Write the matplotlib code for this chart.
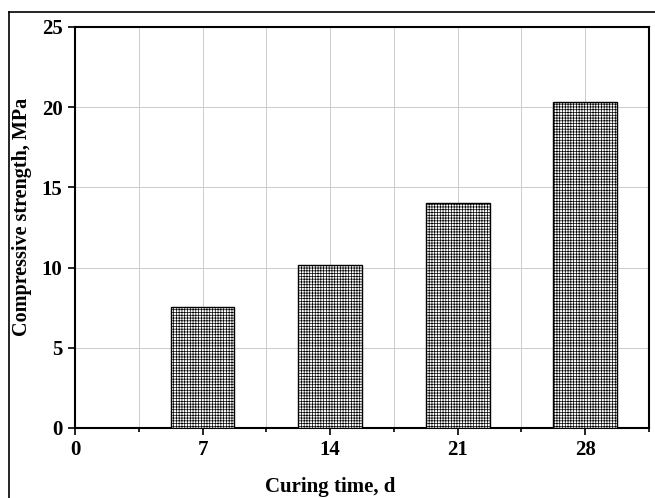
import numpy as np
import matplotlib
matplotlib.use("Agg")
import matplotlib.pyplot as plt
from matplotlib.lines import Line2D

# curing time (days) and compressive strength (MPa)
days = [7, 14, 21, 28]
strength = [7.55, 10.15, 14.05, 20.3]
xticks = [0, 7, 14, 21, 28]
yticks = [0, 5, 10, 15, 20, 25]

plt.rcParams['font.family'] = 'serif'
plt.rcParams['font.serif'] = ['Liberation Serif']
plt.rcParams['font.weight'] = 'bold'
plt.rcParams['hatch.linewidth'] = 0.5

fig = plt.figure(figsize=(6.55, 4.98), dpi=100)
ax = fig.add_axes([0.1145, 0.1406, 0.8763, 0.8052])

ax.bar(days, strength, width=3.5, facecolor='white', edgecolor='black',
       hatch='++++++', linewidth=1.0, zorder=3)

ax.set_xlim(0, 31.5)
ax.set_ylim(0, 25)
ax.set_xticks(xticks)
ax.set_xticks(np.arange(3.5, 31.6, 7), minor=True)
ax.set_yticks(yticks)
ax.grid(True, which='both', axis='x', color='#cccccc', linewidth=0.7, zorder=0)
ax.grid(True, which='major', axis='y', color='#cccccc', linewidth=0.7, zorder=0)
ax.tick_params(axis='both', which='major', direction='out', length=5, width=1.2,
               labelsize=15, pad=4)
ax.tick_params(axis='x', which='minor', direction='out', length=3, width=1.2)
for lbl in ax.get_xticklabels() + ax.get_yticklabels():
    lbl.set_fontweight('bold')
for s in ax.spines.values():
    s.set_linewidth(1.5)

ax.set_xlabel('Curing time, d', fontsize=15, fontweight='bold', va='center')
ax.xaxis.set_label_coords(0.444, -0.147)
ax.set_ylabel('Compressive strength, MPa', fontsize=14.5, fontweight='bold', va='center')
ax.yaxis.set_label_coords(-0.092, 0.526)

# outer frame lines (top and left)
fig.add_artist(Line2D([9/655, 1], [1 - 12/498, 1 - 12/498], color='black', lw=1.2,
                      transform=fig.transFigure))
fig.add_artist(Line2D([9/655, 9/655], [0, 1 - 12/498], color='black', lw=1.2,
                      transform=fig.transFigure))

fig.savefig('out.png', dpi=100)
